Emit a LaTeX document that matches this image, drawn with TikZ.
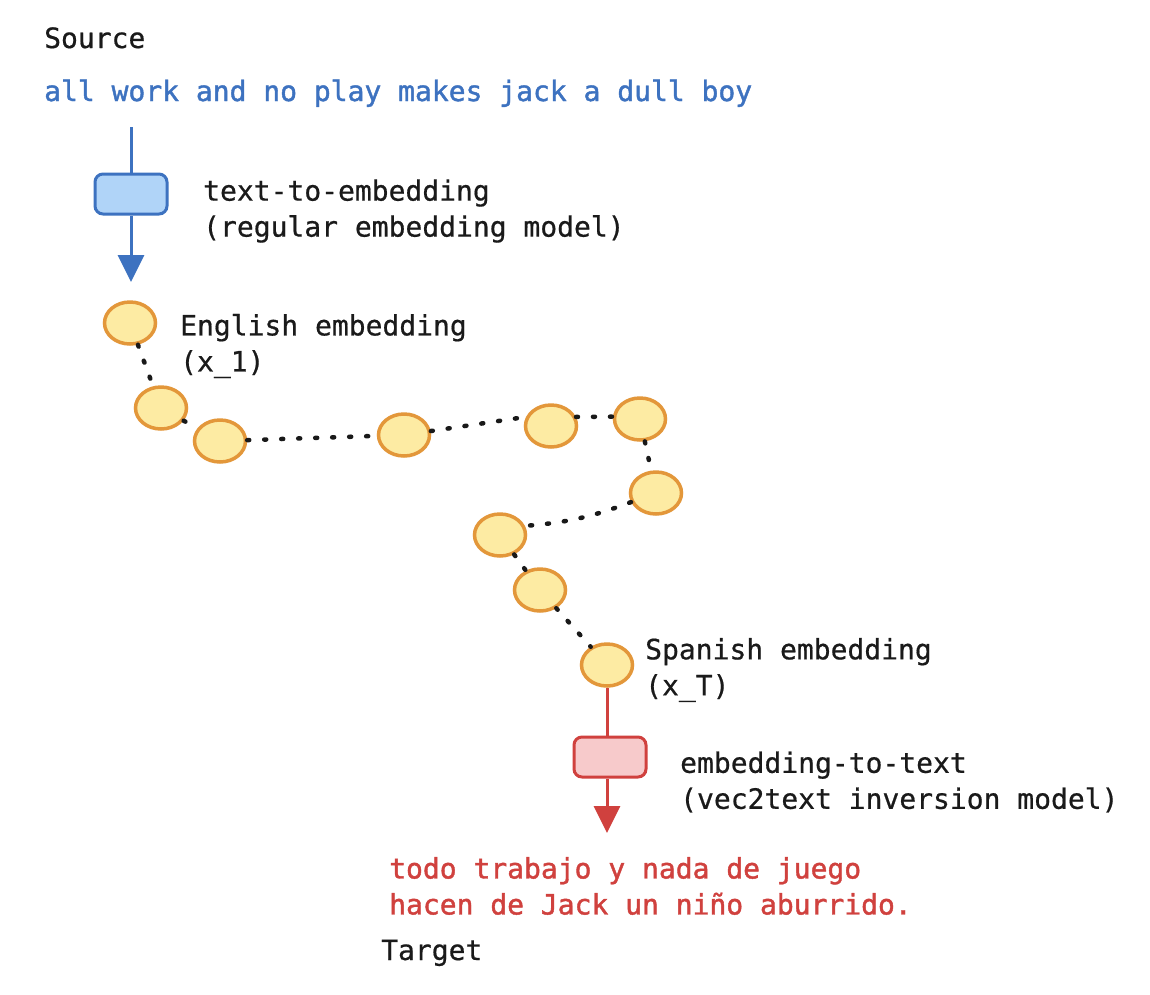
\documentclass[tikz,border=0pt]{standalone}
\usepackage{fontspec}
\setmonofont{DejaVu Sans Mono}
\newfontfamily\lblfont[FakeBold=0.6]{DejaVu Sans Mono}
\newfontfamily\colfont[FakeBold=1.4]{DejaVu Sans Mono}
\usetikzlibrary{shapes.geometric,arrows.meta}
\definecolor{bluetxt}{RGB}{61,114,192}
\definecolor{bluefill}{RGB}{176,212,248}
\definecolor{orangestroke}{RGB}{227,151,58}
\definecolor{yellowfill}{RGB}{253,235,163}
\definecolor{redtxt}{RGB}{208,65,62}
\definecolor{redfill}{RGB}{247,202,203}
\definecolor{darktxt}{RGB}{26,26,26}
\tikzset{
  lbl/.style={font=\lblfont\fontsize{28}{36}\selectfont, text=darktxt, inner sep=0pt, align=left},
  collbl/.style={font=\colfont\fontsize{28}{36}\selectfont, inner sep=0pt, align=left},
  emb/.style={ellipse, draw=orangestroke, fill=yellowfill, line width=3.5pt, minimum width=51pt, minimum height=42pt, inner sep=0pt},
  bluebox/.style={draw=bluetxt, fill=bluefill, line width=3pt, rounded corners=8pt, minimum width=72pt, minimum height=40pt, inner sep=0pt},
  redbox/.style={draw=redtxt, fill=redfill, line width=3pt, rounded corners=8pt, minimum width=72pt, minimum height=40pt, inner sep=0pt},
  dots/.style={draw=black!90, line width=4.5pt, line cap=round, dash pattern=on 2pt off 15pt},
  blueline/.style={draw=bluetxt, line width=3pt},
  redline/.style={draw=redtxt, line width=3pt},
}
\begin{document}
\begin{tikzpicture}[x=1pt,y=-1pt]
\useasboundingbox[fill=white] (0,0) rectangle (1150,994);
% texts
\node[lbl, anchor=base west] (source) at (44,48) {Source};
\node[collbl, anchor=base west, text=bluetxt] (srctext) at (44,101) {all work and no play makes jack a dull boy};
% blue pipeline
\coordinate (btop) at (131,127);
\node[bluebox] (box1) at (131,194) {};
\coordinate (btip) at (131,282);
\draw[blueline] (btop) -- (box1);
\draw[blueline, -{Triangle[width=26pt,length=27pt]}, fill=bluetxt] (box1) -- (btip);
\node[lbl, anchor=west] (l1) at (203,211) {text-to-embedding\\(regular embedding model)};
% embeddings
\node[emb] (e1) at (130,323) {};
\node[emb] (e2) at (161,408) {};
\node[emb] (e3) at (220,441) {};
\node[emb] (e4) at (404,435) {};
\node[emb] (e5) at (551,426) {};
\node[emb] (e6) at (640,419) {};
\node[emb] (e7) at (656,493) {};
\node[emb] (e8) at (500,535) {};
\node[emb] (e9) at (540,590) {};
\node[emb] (e10) at (607,665) {};
\node[lbl, anchor=west] (l2) at (180,346) {English embedding\\(x\_1)};
\node[lbl, anchor=west] (l3) at (645,670) {Spanish embedding\\(x\_T)};
% dotted path
\draw[dots] (e1) -- (e2);
\draw[dots] (e2) -- (e3);
\draw[dots] (e3) -- (e4);
\draw[dots] (e4) -- (e5.160);
\draw[dots] (e5.20) -- (e6.175);
\draw[dots] (e6) -- (e7);
\draw[dots] (e7.200) to[bend left=8] (e8.20);
\draw[dots] (e8) -- (e9);
\draw[dots] (e9) -- (e10);
% red pipeline
\node[redbox] (box2) at (610,757) {};
\coordinate (rtip) at (607,833);
\draw[redline] (e10) -- (e10 |- box2.north);
\draw[redline, -{Triangle[width=26pt,length=27pt]}, fill=redtxt] (box2.south -| rtip) -- (rtip);
\node[lbl, anchor=west] (l4) at (680,782) {embedding-to-text\\(vec2text inversion model)};
\node[collbl, anchor=west, text=redtxt] (tgttext) at (389,886) {todo trabajo y nada de juego\\hacen de Jack un niño aburrido.};
\node[lbl, anchor=base west] (target) at (381,960) {Target};
\end{tikzpicture}
\end{document}
